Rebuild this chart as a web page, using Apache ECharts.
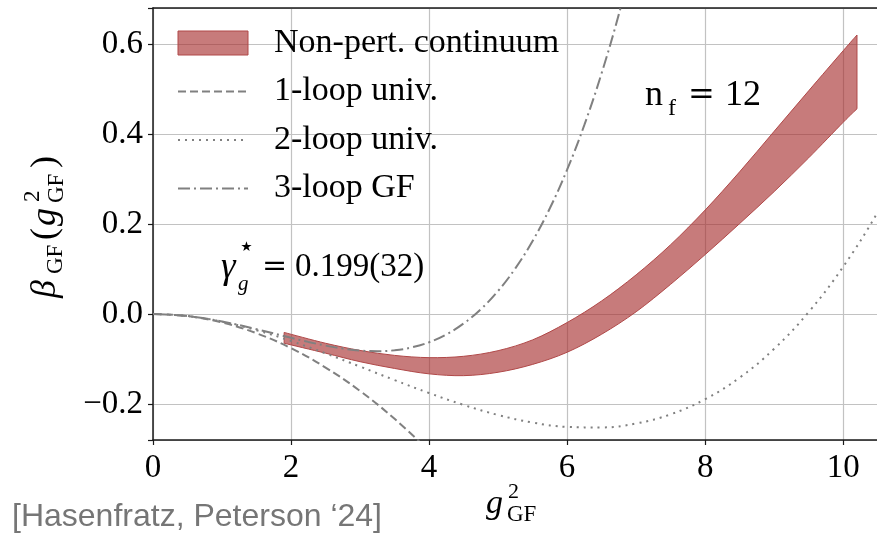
<!DOCTYPE html>
<html>
<head>
<meta charset="utf-8">
<script src="https://cdn.jsdelivr.net/npm/echarts@6/dist/echarts.min.js"></script>
<style>
  html, body { margin: 0; padding: 0; background: #fff; }
  #chart { width: 877px; height: 537px; }
</style>
</head>
<body>
<div id="chart"></div>
<script>
// g^2_GF sample points for the perturbative curves
const pertX = [0, 0.5, 1, 1.5, 2, 2.5, 3, 3.5, 4, 4.5, 5, 5.5, 6, 6.5, 7, 7.5, 8, 8.5, 9, 9.5, 10, 10.5, 11];
const oneLoop = [0, -0.0048, -0.019, -0.0428, -0.076, -0.119, -0.171, -0.233, -0.304];
const twoLoop = [0, -0.0045, -0.017, -0.036, -0.060, -0.0874, -0.1169, -0.1468, -0.1757, -0.202, -0.2244,
  -0.2412, -0.2509, -0.2521, -0.2433, -0.2229, -0.1894, -0.1414, -0.0774, 0.0043, 0.105, 0.2263, 0.3697];
const threeLoopX = [0, 0.5, 1, 1.5, 2, 2.25, 2.5, 2.75, 3, 3.25, 3.5, 3.75, 4, 4.25, 4.5, 4.75, 5,
  5.25, 5.5, 5.75, 6, 6.25, 6.5, 6.75, 7];
const threeLoopGF = [0, -0.0045, -0.0166, -0.0338, -0.0529, -0.062, -0.0702, -0.0768, -0.0812, -0.0827,
  -0.0806, -0.0742, -0.0628, -0.0454, -0.0212, 0.0107, 0.0512, 0.1015, 0.1623, 0.235, 0.3206, 0.4202,
  0.5351, 0.6664, 0.8155];

// non-perturbative continuum band
const bandX = [1.9, 2.5, 3, 3.5, 4, 4.5, 5, 5.5, 6, 6.5, 7, 7.5, 8, 8.5, 9, 9.5, 10, 10.2];
const bandUpper = [-0.041, -0.065, -0.081, -0.092, -0.097, -0.094, -0.0815, -0.0575, -0.019, 0.029, 0.087,
  0.154, 0.231, 0.316, 0.406, 0.496, 0.585, 0.620];
const bandLower = [-0.065, -0.087, -0.106, -0.121, -0.133, -0.137, -0.1295, -0.112, -0.085, -0.045, 0.005,
  0.066, 0.132, 0.201, 0.272, 0.347, 0.426, 0.456];

const legendNames = ['Non-pert. continuum', '1-loop univ.', '2-loop univ.', '3-loop GF'];

const serif = '"Liberation Serif", "DejaVu Serif", serif';
const grey = '#808080';
const axisBlack = '#1a1a1a';
const bandFill = 'rgba(165, 42, 42, 0.62)';
const bandEdge = '#b04848';
const noSymbol = { color: 'rgba(0,0,0,0)', borderWidth: 0 };
const xMax = 10.49;

const pairs = (xs, ys) => ys.map((y, i) => [xs[i], y]);

// catmull-rom through pixel points -> bezier path segments
function curveThrough(pts) {
  let d = '';
  for (let i = 0; i < pts.length - 1; i++) {
    const p0 = pts[i - 1] || pts[i], p1 = pts[i], p2 = pts[i + 1], p3 = pts[i + 2] || pts[i + 1];
    const c1 = [p1[0] + (p2[0] - p0[0]) / 6, p1[1] + (p2[1] - p0[1]) / 6];
    const c2 = [p2[0] - (p3[0] - p1[0]) / 6, p2[1] - (p3[1] - p1[1]) / 6];
    d += ' C' + c1.join(',') + ' ' + c2.join(',') + ' ' + p2.join(',');
  }
  return d;
}

// small helper for the latex-ish text bits
function txt(text, x, y, size, extra) {
  return {
    type: 'text', x: x, y: y, silent: true, z: 100,
    style: Object.assign({
      text: text, fontSize: size, fontFamily: serif, fill: '#000',
      align: 'left', verticalAlign: 'middle'
    }, extra || {})
  };
}
const it = { fontStyle: 'italic' };
const eqFont = { fontFamily: '"DejaVu Serif", serif' };

var chart = echarts.init(document.getElementById('chart'), null, { renderer: 'canvas' });

var option = {
  animation: false,
  backgroundColor: '#fff',
  grid: { left: 153, top: 8, right: 0, bottom: 97, show: false },
  legend: {
    orient: 'vertical', left: 172, top: 20,
    itemWidth: 70, itemHeight: 24, itemGap: 12.5,
    textStyle: { fontFamily: serif, fontSize: 34, color: '#000', lineHeight: 36, padding: [0, 0, 0, 21] },
    data: [
      { name: legendNames[0], icon: 'rect', itemStyle: { color: bandFill, borderColor: bandEdge, borderWidth: 1 } },
      { name: legendNames[1], itemStyle: noSymbol },
      { name: legendNames[2], itemStyle: noSymbol },
      { name: legendNames[3], itemStyle: noSymbol }
    ]
  },
  xAxis: [
    {
      type: 'value', min: 0, max: xMax, interval: 2,
      axisLine: { onZero: false, lineStyle: { color: axisBlack, width: 1.5 } },
      axisTick: { length: 5, lineStyle: { color: axisBlack, width: 1.2 } },
      axisLabel: {
        fontFamily: serif, fontSize: 33, color: '#000', margin: 12, showMaxLabel: false,
        formatter: v => (Math.abs(v % 2) < 1e-9) ? String(v) : ''
      },
      splitLine: { show: true, showMaxLine: false, lineStyle: { color: '#c2c2c2', width: 1.2 } }
    },
    {
      // top frame line
      type: 'value', position: 'top', min: 0, max: xMax,
      axisLine: { show: true, onZero: false, lineStyle: { color: axisBlack, width: 1.5 } },
      axisTick: { show: false }, axisLabel: { show: false }, splitLine: { show: false }
    }
  ],
  yAxis: {
    type: 'value', min: -0.28, max: 0.68,
    axisLine: { onZero: false, lineStyle: { color: axisBlack, width: 1.5 } },
    axisTick: { length: 5, lineStyle: { color: axisBlack, width: 1.2 } },
    axisLabel: {
      fontFamily: serif, fontSize: 33, color: '#000', margin: 10,
      formatter: v => {
        const k = Math.round(v / 0.2);
        if (Math.abs(v - k * 0.2) > 1e-6) return '';
        const s = Math.abs(k * 0.2).toFixed(1);
        return k < 0 ? '\u2212' + s : s;
      }
    },
    splitLine: { show: true, lineStyle: { color: '#c2c2c2', width: 1.2 } }
  },
  series: [
    {
      // filled band between lower and upper edge
      name: legendNames[0], type: 'custom', z: 2,
      data: bandX.map((x, i) => [x, bandLower[i], bandUpper[i]]),
      encode: { x: 0, y: [1, 2] },
      itemStyle: { color: bandFill },
      renderItem: function (params, api) {
        if (params.dataIndex !== 0) return;
        const top = bandX.map((x, i) => api.coord([x, bandUpper[i]]));
        const bottom = bandX.map((x, i) => api.coord([x, bandLower[i]])).reverse();
        const d = 'M' + top[0].join(',') + curveThrough(top) +
          ' L' + bottom[0].join(',') + curveThrough(bottom) + ' Z';
        return {
          type: 'path',
          shape: { pathData: d },
          style: { fill: bandFill, stroke: bandEdge, lineWidth: 1 }
        };
      }
    },
    {
      name: legendNames[1], type: 'line', data: pairs(pertX, oneLoop), smooth: 0.4, symbol: 'none',
      lineStyle: { color: grey, width: 2, type: [8, 4] }, itemStyle: { color: grey }, z: 3
    },
    {
      name: legendNames[2], type: 'line', data: pairs(pertX, twoLoop), smooth: 0.4, symbol: 'none',
      lineStyle: { color: grey, width: 2, type: [2, 5] }, itemStyle: { color: grey }, z: 3
    },
    {
      name: legendNames[3], type: 'line', data: pairs(threeLoopX, threeLoopGF), smooth: 0.4, symbol: 'none',
      lineStyle: { color: grey, width: 2, type: [12, 4, 2, 4] }, itemStyle: { color: grey }, z: 3
    }
  ],
  graphic: [
    // n_f = 12
    txt('n', 645, 96, 36),
    txt('f', 668, 109, 24),
    txt('=', 688, 96, 32, eqFont),
    txt('12', 725, 96, 36),
    // gamma_g^* = 0.199(32)
    txt('\u03b3', 221, 268, 37, it),
    txt('\u22c6', 238, 248, 27, { fontFamily: '"DejaVu Sans", sans-serif' }),
    txt('g', 238, 284, 21, it),
    txt('=', 262, 267, 30, eqFont),
    txt('0.199(32)', 295, 267, 33),
    // x axis name
    txt('g', 486, 504, 34, it),
    txt('2', 508, 492, 22),
    txt('GF', 507, 515, 23),
    // citation
    txt('[Hasenfratz, Peterson \u201824]', 12, 517, 32, { fontFamily: '"Liberation Sans", Arial, sans-serif', fill: '#767676' }),
    // y axis name, rotated
    {
      type: 'group', x: 46, y: 298, rotation: Math.PI / 2, silent: true, z: 100,
      children: [
        txt('\u03b2', 0, 0, 36, it),
        txt('GF', 24, 10, 23),
        txt('(', 58, 0, 36),
        txt('g', 72, 0, 36, it),
        txt('2', 96, -13, 23),
        txt('GF', 95, 11, 23),
        txt(')', 130, 0, 36)
      ]
    }
  ]
};

option && chart.setOption(option);
</script>
</body>
</html>
